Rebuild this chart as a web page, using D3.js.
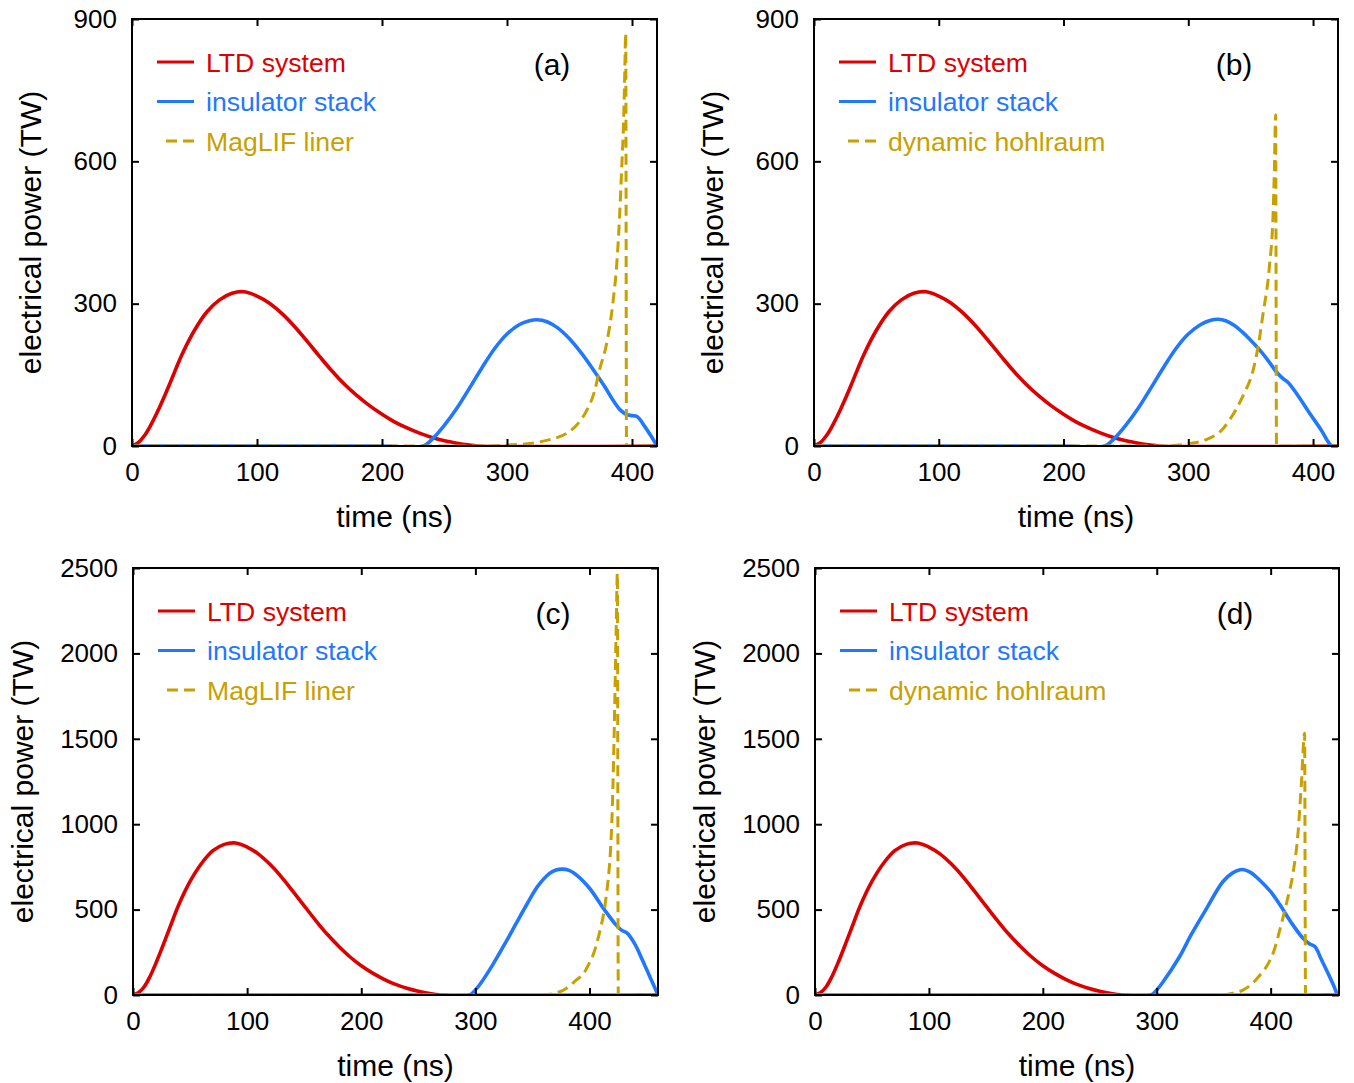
<!DOCTYPE html>
<html>
<head>
<meta charset="utf-8">
<script src="https://cdn.jsdelivr.net/npm/d3@7"></script>
<style>
  html, body { margin: 0; padding: 0; background: #fff; }
  svg { display: block; }
  text { font-family: "Liberation Sans", Arial, Helvetica, sans-serif; }
</style>
</head>
<body>
<svg id="chart" width="1354" height="1083"></svg>
<script>
// ---------- DATA ----------
// panels (a),(b): time (ns) and electrical power (TW)
const tLtdA  = [0,5,10,15,20,25,30,35,40,50,60,70,80,90,100,110,120,130,140,150,160,170,180,190,200,210,220,230,240,250,260,270,276,420];
const ltdA   = [0,7,22,44,70,99,130,162,193,244,283,308,322,325,316,301,279,252,221,189,158,130,106,85,67,51,38,27,18,11,6,2,0,0];

const tStackA = [0,200,233,240,250,260,270,280,290,300,310,318,324,332,340,350,360,370,378,385,391,396,400,404,410,415,420];
const stackA  = [0,0,0,14,44,80,122,165,205,236,256,264,266,262,250,226,194,157,126,96,75,66,64,62,42,22,0];

const tLinerA = [0,280,300,320,335,348,356,364,370,374,380,385,388,390,392,393,394,395,395.6,420];
const linerA  = [0,0,2,6,14,27,45,76,115,160,220,308,390,480,600,660,760,870,0,0];

const tStackB = [0,200,233,240,250,260,270,280,290,300,310,318,324,330,337,343,350,357,364,371,376,380,388,397,406,415,420];
const stackB  = [0,0,0,14,44,80,122,165,205,236,256,265,267,264,254,241,223,203,180,155,142,134,106,70,36,0,0];

const tHohlB  = [0,280,301,314,328,338,345,352,356,360,365,368,369,370,370.7,420];
const hohlB   = [0,0,5,13,37,76,112,160,210,280,378,491,582,698,0,0];

// panels (c),(d)
const tLtdC  = [0,5,10,15,20,25,30,35,40,50,60,70,80,90,100,110,120,130,140,150,160,170,180,190,200,210,220,230,240,250,260,265,271,460];
const ltdC   = [0,15,50,110,185,268,355,442,527,665,770,845,882,890,866,825,765,692,608,522,437,357,287,224,171,128,92,62,40,22,8,3,0,0];

const tStackC = [0,260,295,300,305,315,325,335,345,355,365,370,376,382,390,400,413,423,428,433,440,446,452,460];
const stackC  = [0,0,0,30,72,175,290,410,530,640,712,730,737,730,695,625,500,412,380,362,295,210,120,0];

const tLinerC = [0,355,365,372,380,388,395,400,404,407,410,413,415,417,418.5,420,421,422,423.4,424.4,425.2,460];
const linerC  = [0,0,4,14,40,85,128,190,250,320,400,500,600,720,860,1100,1350,1669,2156,2470,0,0];

const tStackD = [0,260,295,300,305,320,330,343,358,366,375,383,390,400,408,418,428,434,439,444,449,455,459,460];
const stackD  = [0,0,0,30,72,224,350,498,663,712,735,715,675,605,530,425,335,300,283,215,146,60,0,0];

const tHohlD  = [0,355,367,376,384,391,398,403,408,414,419.6,424,427,429.8,430.6,460];
const hohlD   = [0,0,10,30,68,120,185,260,380,540,712,946,1239,1533,0,0];

const xTicksAB = [0,100,200,300,400];
const yTicksAB = [0,300,600,900];
const xTicksCD = [0,100,200,300,400];
const yTicksCD = [0,500,1000,1500,2000,2500];

const legendLTD = "LTD system";
const legendStack = "insulator stack";
const legendLiner = "MagLIF liner";
const legendHohl = "dynamic hohlraum";
const xTitle = "time (ns)";
const yTitle = "electrical power (TW)";

// ---------- STYLE ----------
const RED = "#dd0000", BLUE = "#1f78ff", GOLD = "#c8a000";
const DASH = "11,6";

const panels = [
  { label: "(a)", left: 132, top: 19, right: 657, bottom: 446, xMax: 420, yMax: 900, xTicks: xTicksAB, yTicks: yTicksAB, yTitleX: 30,
    series: [[tLtdA, ltdA], [tStackA, stackA], [tLinerA, linerA]], thirdName: legendLiner },
  { label: "(b)", left: 814, top: 19, right: 1338, bottom: 446, xMax: 420, yMax: 900, xTicks: xTicksAB, yTicks: yTicksAB, yTitleX: 712,
    series: [[tLtdA, ltdA], [tStackB, stackB], [tHohlB, hohlB]], thirdName: legendHohl },
  { label: "(c)", left: 133, top: 568, right: 658, bottom: 995, xMax: 460, yMax: 2500, xTicks: xTicksCD, yTicks: yTicksCD, yTitleX: 22,
    series: [[tLtdC, ltdC], [tStackC, stackC], [tLinerC, linerC]], thirdName: legendLiner },
  { label: "(d)", left: 815, top: 568, right: 1339, bottom: 995, xMax: 460, yMax: 2500, xTicks: xTicksCD, yTicks: yTicksCD, yTitleX: 704,
    series: [[tLtdC, ltdC], [tStackD, stackD], [tHohlD, hohlD]], thirdName: legendHohl }
];

const svg = d3.select("#chart");

panels.forEach((p, i) => {
  const x = d3.scaleLinear().domain([0, p.xMax]).range([p.left, p.right]);
  const y = d3.scaleLinear().domain([0, p.yMax]).range([p.bottom, p.top]);
  const g = svg.append("g");

  const clipId = "clip" + i;
  svg.append("clipPath").attr("id", clipId)
    .append("rect").attr("x", p.left).attr("y", p.top - 2)
    .attr("width", p.right - p.left).attr("height", p.bottom - p.top + 2);

  const smooth = d3.line().x(d => x(d[0])).y(d => y(Math.max(0, d[1]))).curve(d3.curveCatmullRom.alpha(0.5));
  const mono = d3.line().x(d => x(d[0])).y(d => y(d[1])).curve(d3.curveMonotoneX);
  const styles = [
    { color: RED, dash: null, w: 3.6, gen: smooth },
    { color: BLUE, dash: null, w: 3.6, gen: smooth },
    { color: GOLD, dash: DASH, w: 3, gen: mono }
  ];
  const lines = g.append("g").attr("clip-path", `url(#${clipId})`);
  p.series.forEach((s, k) => {
    const pts = s[0].map((t, j) => [t, s[1][j]]);
    lines.append("path").datum(pts)
      .attr("d", styles[k].gen)
      .attr("fill", "none")
      .attr("stroke", styles[k].color)
      .attr("stroke-width", styles[k].w)
      .attr("stroke-linejoin", "round")
      .attr("stroke-dasharray", styles[k].dash);
  });

  // axes: bottom/left with labels, top/right with inward ticks only
  const tickLen = 7;
  const axB = d3.axisBottom(x).tickValues(p.xTicks).tickSize(-tickLen).tickPadding(12).tickFormat(d3.format("d"));
  const axT = d3.axisTop(x).tickValues(p.xTicks).tickSize(-tickLen).tickFormat("");
  const axL = d3.axisLeft(y).tickValues(p.yTicks).tickSize(-tickLen).tickPadding(15).tickFormat(d3.format("d"));
  const axR = d3.axisRight(y).tickValues(p.yTicks).tickSize(-tickLen).tickFormat("");

  const gb = g.append("g").attr("transform", `translate(0,${p.bottom})`).call(axB);
  const gt = g.append("g").attr("transform", `translate(0,${p.top})`).call(axT);
  const gl = g.append("g").attr("transform", `translate(${p.left},0)`).call(axL);
  const gr = g.append("g").attr("transform", `translate(${p.right},0)`).call(axR);
  [gb, gt, gl, gr].forEach(a => {
    a.select(".domain").remove();
    a.selectAll(".tick line").attr("stroke", "#000").attr("stroke-width", 2);
    a.selectAll(".tick text").attr("fill", "#000").style("font-size", "26px")
      .style("font-family", '"Liberation Sans", Arial, Helvetica, sans-serif');
  });
  gb.selectAll(".tick text").attr("dy", "0.88em");

  // frame
  g.append("rect").attr("x", p.left).attr("y", p.top)
    .attr("width", p.right - p.left).attr("height", p.bottom - p.top)
    .attr("fill", "none").attr("stroke", "#000").attr("stroke-width", 2);

  // axis titles
  g.append("text").attr("x", (p.left + p.right) / 2).attr("y", p.bottom + 81)
    .attr("text-anchor", "middle").style("font-size", "30px").attr("fill", "#000").text(xTitle);
  g.append("text")
    .attr("transform", `translate(${p.yTitleX},${(p.top + p.bottom) / 2}) rotate(-90)`)
    .attr("text-anchor", "middle").attr("dy", "0.35em")
    .style("font-size", "30px").attr("fill", "#000").text(yTitle);

  // panel label
  g.append("text").attr("x", p.left + 420).attr("y", p.top + 45).attr("dy", "0.35em")
    .attr("text-anchor", "middle").style("font-size", "30px").attr("fill", "#000").text(p.label);

  // legend
  const leg = [
    { name: legendLTD, color: RED, dash: null, x1: 25 },
    { name: legendStack, color: BLUE, dash: null, x1: 25 },
    { name: p.thirdName, color: GOLD, dash: "11,6", x1: 34 }
  ];
  leg.forEach((L, k) => {
    const ly = p.top + 43 + k * 39.5;
    g.append("line").attr("x1", p.left + L.x1).attr("x2", p.left + 62)
      .attr("y1", ly).attr("y2", ly)
      .attr("stroke", L.color).attr("stroke-width", 3)
      .attr("stroke-dasharray", L.dash);
    g.append("text").attr("x", p.left + 74).attr("y", ly).attr("dy", "0.36em")
      .style("font-size", "26.6px").attr("fill", L.color).text(L.name);
  });
});
</script>
</body>
</html>
